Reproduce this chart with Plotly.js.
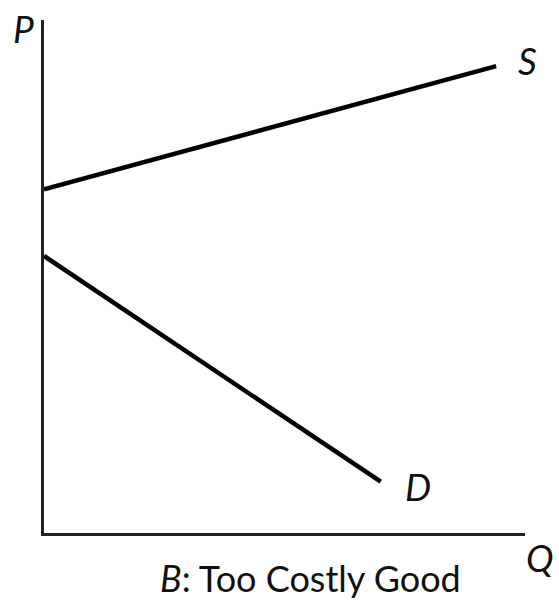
<!DOCTYPE html>
<html>
<head>
<meta charset="utf-8">
<script src="https://cdn.plot.ly/plotly-3.0.1.min.js"></script>
<style>html,body{margin:0;padding:0;background:#fff;}#chart{width:559px;height:600px;}</style>
</head>
<body>
<div id="chart"></div>
<script>
const supplyQ = [0, 9.4];
const supplyP = [6.7, 9.1];
const demandQ = [0, 7.0];
const demandP = [5.4, 1.0];
const curveLabels = ["S", "D"];
const axisLabels = ["P", "Q"];
const chartTitle = "<i>B</i>: Too Costly Good";

const font = "Lato, 'Open Sans', sans-serif";
const lblFont = {family: font, size: 37, color: "#111"};
const traces = [
  {x: supplyQ, y: supplyP, mode: "lines", line: {color: "#000", width: 4.5}, hoverinfo: "skip"},
  {x: demandQ, y: demandP, mode: "lines", line: {color: "#000", width: 4.5}, hoverinfo: "skip"}
];
const layout = {
  width: 559, height: 600,
  margin: {l: 44, r: 34, t: 20, b: 67},
  paper_bgcolor: "#fff", plot_bgcolor: "#fff",
  showlegend: false,
  xaxis: {range: [0, 10], showgrid: false, zeroline: false, showticklabels: false, ticks: "",
          showline: true, linecolor: "#222", linewidth: 3, fixedrange: true},
  yaxis: {range: [0, 10], showgrid: false, zeroline: false, showticklabels: false, ticks: "",
          showline: true, linecolor: "#222", linewidth: 3, fixedrange: true},
  annotations: [
    {text: "<i>" + axisLabels[0] + "</i>", xref: "paper", yref: "paper", x: -0.0416, y: 0.984, xanchor: "center", yanchor: "middle", showarrow: false, font: lblFont},
    {text: "<i>" + axisLabels[1] + "</i>", xref: "paper", yref: "paper", x: 1.031, y: -0.047, xanchor: "center", yanchor: "middle", showarrow: false, font: lblFont},
    {text: "<i>" + curveLabels[0] + "</i>", x: supplyQ[1], y: supplyP[1], xshift: 31, yshift: 6, xanchor: "center", yanchor: "middle", showarrow: false, font: lblFont},
    {text: "<i>" + curveLabels[1] + "</i>", x: demandQ[1], y: demandP[1], xshift: 37, yshift: -5, xanchor: "center", yanchor: "middle", showarrow: false, font: lblFont},
    {text: chartTitle, xref: "paper", yref: "paper", x: 0.555, y: -0.0877, xanchor: "center", yanchor: "middle", showarrow: false, font: {family: font, size: 36, color: "#111"}}
  ]
};
Plotly.newPlot("chart", traces, layout, {displayModeBar: false, staticPlot: true});
</script>
</body>
</html>
